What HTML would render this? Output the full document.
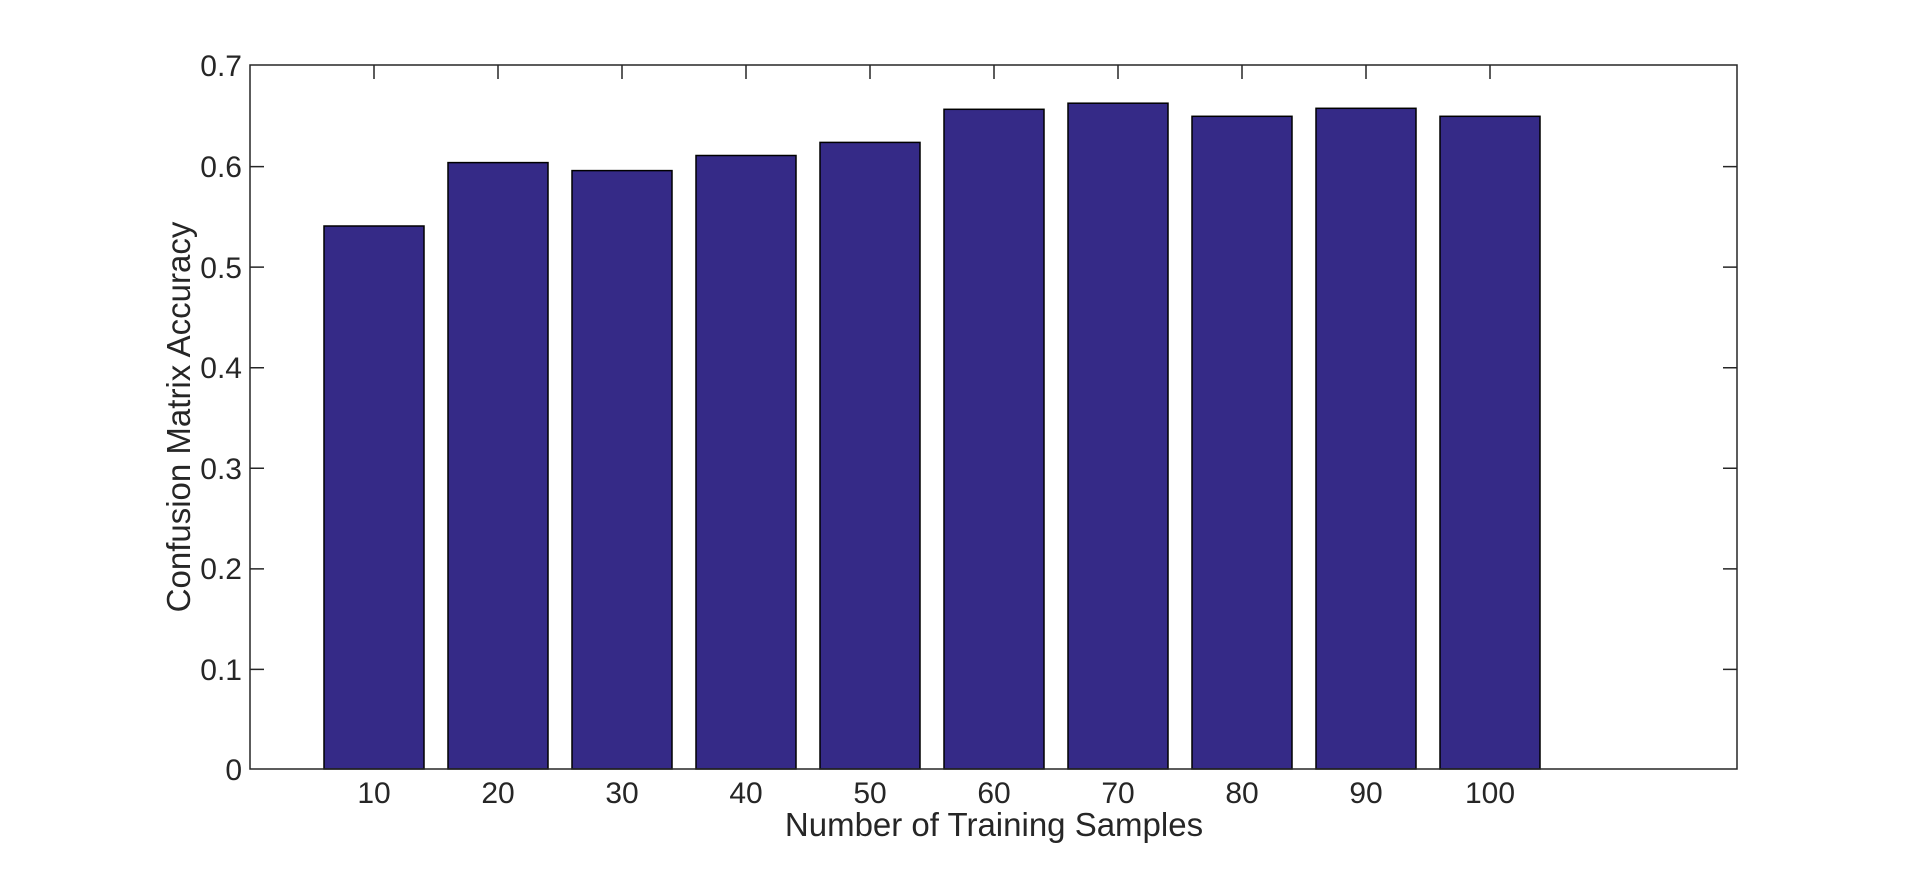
<!DOCTYPE html>
<html><head><style>body{margin:0;background:#fff}svg text{font-family:"Liberation Sans",Arial,sans-serif;fill:#262626}</style></head>
<body><svg width="1920" height="865" xmlns="http://www.w3.org/2000/svg">
<g id="bars" fill="#352a87" stroke="#000" stroke-width="1.5">
<rect x="324" y="226.0" width="100" height="543.0"/>
<rect x="448" y="162.6" width="100" height="606.4"/>
<rect x="572" y="170.6" width="100" height="598.4"/>
<rect x="696" y="155.5" width="100" height="613.5"/>
<rect x="820" y="142.4" width="100" height="626.6"/>
<rect x="944" y="109.3" width="100" height="659.7"/>
<rect x="1068" y="103.2" width="100" height="665.8"/>
<rect x="1192" y="116.3" width="100" height="652.7"/>
<rect x="1316" y="108.3" width="100" height="660.7"/>
<rect x="1440" y="116.3" width="100" height="652.7"/>
</g>
<rect x="250" y="65" width="1487" height="704" fill="none" stroke="#262626" stroke-width="1.5"/>
<g stroke="#262626" stroke-width="1.5">
<path d="M250 669.4h14M250 568.9h14M250 468.3h14M250 367.7h14M250 267.1h14M250 166.6h14M1737 669.4h-14M1737 568.9h-14M1737 468.3h-14M1737 367.7h-14M1737 267.1h-14M1737 166.6h-14"/>
<path d="M374 65v14M498 65v14M622 65v14M746 65v14M870 65v14M994 65v14M1118 65v14M1242 65v14M1366 65v14M1490 65v14"/>
</g>
<g font-size="30" text-anchor="end">
<text x="242" y="780">0</text><text x="242" y="680">0.1</text><text x="242" y="579">0.2</text><text x="242" y="479">0.3</text><text x="242" y="378">0.4</text><text x="242" y="278">0.5</text><text x="242" y="177">0.6</text><text x="242" y="76">0.7</text>
</g>
<g font-size="30" text-anchor="middle">
<text x="374" y="803">10</text><text x="498" y="803">20</text><text x="622" y="803">30</text><text x="746" y="803">40</text><text x="870" y="803">50</text><text x="994" y="803">60</text><text x="1118" y="803">70</text><text x="1242" y="803">80</text><text x="1366" y="803">90</text><text x="1490" y="803">100</text>
<text x="994" y="836" font-size="33">Number of Training Samples</text>
<text transform="translate(190,417) rotate(-90)" font-size="33">Confusion Matrix Accuracy</text>
</g>
</svg></body></html>
